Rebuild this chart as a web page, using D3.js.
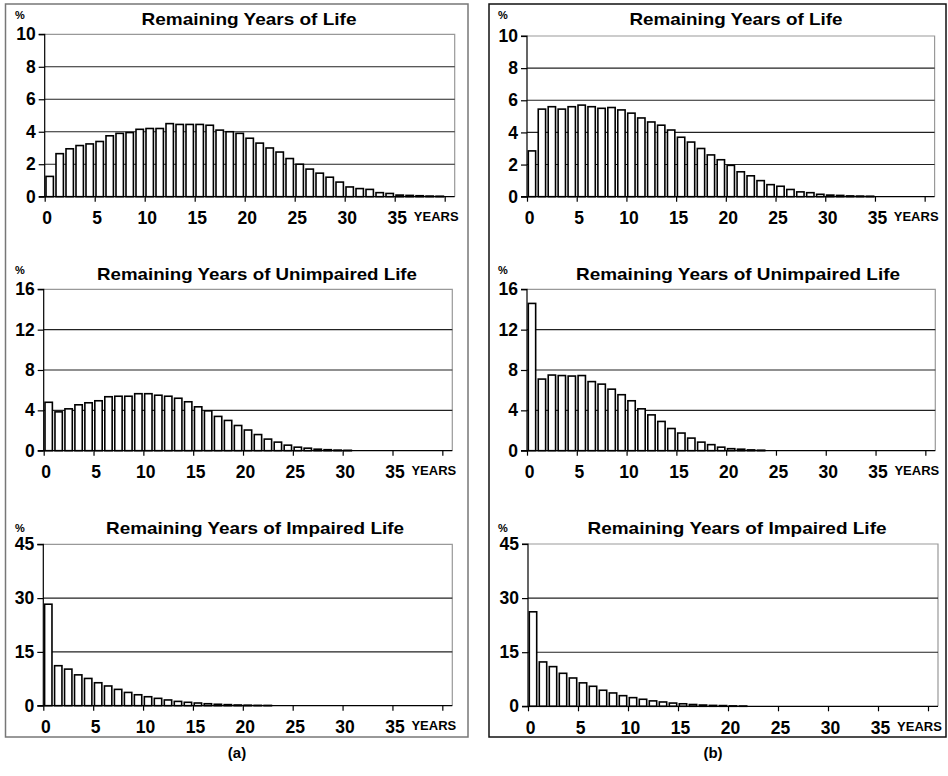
<!DOCTYPE html>
<html><head><meta charset="utf-8">
<script src="https://cdn.jsdelivr.net/npm/d3@7"></script>
<style>
html,body{margin:0;padding:0;background:#fff;}
svg{display:block;font-family:"Liberation Sans",Arial,Helvetica,sans-serif;font-weight:bold;}
</style></head>
<body><svg id="c" width="948" height="776"></svg>
<script>
// ---------- DATA ----------
const titles = ["Remaining Years of Life","Remaining Years of Unimpaired Life","Remaining Years of Impaired Life"];
const panelLabels = ["(a)","(b)"];
const xTickValues = [0,5,10,15,20,25,30,35,40];
const xTickLabels = ["0","5","10","15","20","25","30","35","YEARS"];
const yTicksLife = [0,2,4,6,8,10];
const yTicksUnimp = [0,4,8,12,16];
const yTicksImp = [0,15,30,45];

const lifeA = [1.25,2.65,2.95,3.15,3.25,3.4,3.75,3.9,3.95,4.15,4.2,4.2,4.5,4.45,4.45,4.45,4.4,4.1,4.0,3.9,
  3.6,3.3,3.0,2.75,2.35,2.0,1.7,1.45,1.2,0.9,0.6,0.5,0.45,0.25,0.2,0.1,0.08,0.06,0.04,0.03];
const unimpA = [4.8,3.85,4.15,4.55,4.75,4.95,5.35,5.4,5.4,5.65,5.65,5.5,5.4,5.2,4.85,4.35,3.95,3.4,3.0,2.5,
  2.05,1.6,1.15,0.85,0.55,0.35,0.25,0.15,0.1,0.06,0.04];
const impA = [28.3,11.15,10.2,8.6,7.6,6.4,5.5,4.55,3.7,3.05,2.5,2.05,1.6,1.2,0.95,0.75,0.55,0.4,0.3,0.2,0.15,0.1,0.08];

const lifeB = [2.85,5.45,5.6,5.45,5.6,5.7,5.6,5.5,5.55,5.4,5.2,4.9,4.65,4.45,4.15,3.7,3.4,3.0,2.6,2.3,
  1.95,1.55,1.3,1.0,0.75,0.65,0.45,0.3,0.25,0.15,0.1,0.08,0.05,0.04,0.03];
const unimpB = [14.6,7.1,7.5,7.45,7.4,7.45,6.85,6.6,6.1,5.55,4.95,4.15,3.55,2.9,2.2,1.75,1.25,0.85,0.6,0.35,0.2,0.15,0.08,0.05];
const impB = [26.2,12.3,11.0,9.15,7.85,6.5,5.55,4.45,3.7,2.95,2.4,1.95,1.5,1.2,0.9,0.7,0.5,0.35,0.25,0.2,0.12,0.08];

// ---------- LAYOUT ----------
const svg = d3.select("#c");
const charts = [
  {data:lifeA,  title:0, ticks:yTicksLife,  ymax:10, x0:44.7, x41:454.7, y0:196.7, y1:34.3, tc:249, tw:215, tb:25,  pct:[15,18.5]},
  {data:unimpA, title:1, ticks:yTicksUnimp, ymax:16, x0:43.7, x41:452.3, y0:450.7, y1:289.3, tc:257, tw:320, tb:280, pct:[15,273.5]},
  {data:impA,   title:2, ticks:yTicksImp,   ymax:45, x0:43.3, x41:452.3, y0:705.7, y1:544.3, tc:255, tw:298, tb:534, pct:[15,532]},
  {data:lifeB,  title:0, ticks:yTicksLife,  ymax:10, x0:527,  x41:934.6, y0:196.7, y1:36,    tc:736, tw:213, tb:25,  pct:[498,18.5]},
  {data:unimpB, title:1, ticks:yTicksUnimp, ymax:16, x0:527,  x41:935.3, y0:450.7, y1:289.3, tc:738, tw:324, tb:280, pct:[498,273.5]},
  {data:impB,   title:2, ticks:yTicksImp,   ymax:45, x0:528,  x41:938,   y0:706.3, y1:544,   tc:737, tw:299, tb:534, pct:[498,532]}
];

// outer frames
svg.append("rect").attr("x",5.5).attr("y",4).attr("width",462.5).attr("height",733)
  .attr("fill","none").attr("stroke","#777").attr("stroke-width",1.5);
svg.append("rect").attr("x",489).attr("y",4).attr("width",457).attr("height",733)
  .attr("fill","none").attr("stroke","#111").attr("stroke-width",1.5);

charts.forEach(c => {
  const x = d3.scaleLinear().domain([0,41]).range([c.x0,c.x41]);
  const y = d3.scaleLinear().domain([0,c.ymax]).range([c.y0,c.y1]);
  const g = svg.append("g");

  // plot area border (top & right)
  g.append("path").attr("d",`M${c.x0},${c.y1}H${c.x41}V${c.y0}`)
    .attr("fill","none").attr("stroke","#999").attr("stroke-width",1.2);

  // gridlines
  g.selectAll(".grid").data(c.ticks.filter(t=>t>0 && t<c.ymax)).join("line")
    .attr("x1",c.x0).attr("x2",c.x41).attr("y1",d=>y(d)).attr("y2",d=>y(d))
    .attr("stroke","#222").attr("stroke-width",1.1);

  // bars
  const step = x(1)-x(0);
  g.selectAll(".bar").data(c.data).join("rect")
    .attr("x",(d,i)=>x(i)+1.3).attr("width",step-2.6)
    .attr("y",d=>y(d)).attr("height",d=>Math.max(0,y(0)-y(d)))
    .attr("fill","#fff").attr("stroke","#000").attr("stroke-width",1.6);

  // y axis
  const ya = d3.axisLeft(y).tickValues(c.ticks).tickSize(6).tickPadding(3).tickFormat(d3.format("d"));
  const yg = g.append("g").attr("transform",`translate(${c.x0},0)`).call(ya);
  yg.select(".domain").attr("stroke","#000").attr("stroke-width",1.2).attr("d",`M-6,${c.y1}H0V${c.y0}H-6`);
  yg.selectAll(".tick line").attr("stroke","#000").attr("stroke-width",1.2);
  yg.selectAll(".tick text").attr("font-size",17.5).attr("fill","#000").attr("font-weight","bold")
    .attr("font-family","'Liberation Sans',Arial,sans-serif");

  // x axis
  const xa = d3.axisBottom(x).tickValues(xTickValues).tickSize(5).tickPadding(10)
    .tickFormat((d,i)=>xTickLabels[i]);
  const xg = g.append("g").attr("transform",`translate(0,${c.y0})`).call(xa);
  xg.select(".domain").attr("stroke","#000").attr("stroke-width",1.2).attr("d",`M${c.x0},0H${c.x41}`);
  xg.selectAll(".tick line").attr("stroke","#000").attr("stroke-width",1.2);
  xg.selectAll(".tick text").attr("fill","#000").attr("font-weight","bold")
    .attr("font-family","'Liberation Sans',Arial,sans-serif")
    .attr("font-size",(d,i)=>xTickLabels[i]==="YEARS"?13:17.5)
    .attr("dx",(d,i)=>xTickLabels[i]==="YEARS"?-9:2);

  // title
  g.append("text").attr("x",c.tc).attr("y",c.tb).attr("text-anchor","middle")
    .attr("font-size",17).attr("textLength",c.tw).attr("lengthAdjust","spacingAndGlyphs")
    .text(titles[c.title]);
  // percent sign
  g.append("text").attr("x",c.pct[0]).attr("y",c.pct[1]).attr("font-size",11).text("%");
});

// panel labels
svg.append("text").attr("x",237).attr("y",758).attr("text-anchor","middle").attr("font-size",15).text(panelLabels[0]);
svg.append("text").attr("x",713).attr("y",758).attr("text-anchor","middle").attr("font-size",15).text(panelLabels[1]);
</script></body></html>
